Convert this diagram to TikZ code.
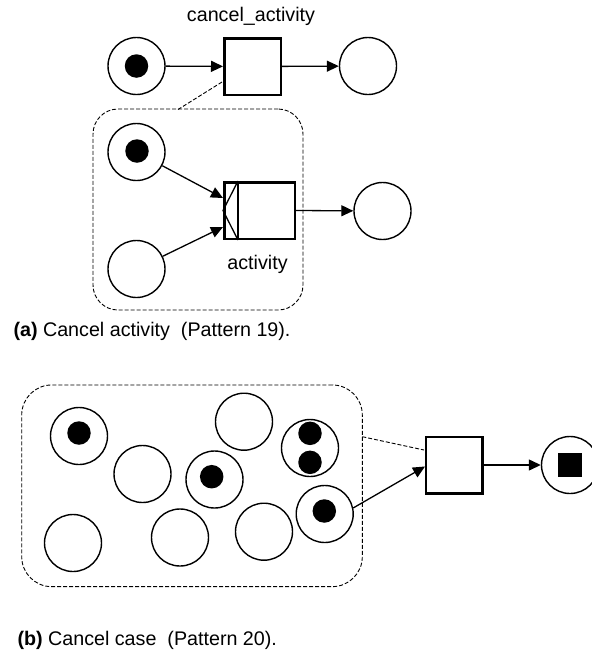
\documentclass[tikz,border=0pt]{standalone}
\usepackage{fontspec}
\setmainfont{Liberation Sans}
\usetikzlibrary{arrows.meta,calc}
\begin{document}
\begin{tikzpicture}[x=1pt,y=-1pt,
  place/.style={draw,circle,line width=1.4pt,minimum size=57pt,inner sep=0pt},
  trans/.style={draw,rectangle,line width=2.5pt,minimum size=56.5pt,inner sep=0pt},
  token/.style={circle,fill=black,minimum size=23.5pt,inner sep=0pt},
  sqtoken/.style={rectangle,fill=black,minimum size=24pt,inner sep=0pt},
  arr/.style={line width=1.3pt,-{Triangle[length=12pt,width=11pt]}},
  grp/.style={draw,dashed,dash pattern=on 4pt off 2pt,line width=0.9pt,rounded corners=#1,inner sep=0pt},
  dline/.style={dashed,dash pattern=on 4pt off 2pt,line width=0.9pt},
  lbl/.style={font=\fontsize{19.7}{23}\selectfont,inner sep=0pt,anchor=base}
]
\useasboundingbox (0,0) rectangle (592,657);

% ---------- (a) ----------
\node[grp=25pt,minimum width=210pt,minimum height=201pt] (g1) at (198,209.5) {};
\node[place] (p1) at (136.5,66) {};
\node[token] (k1) at (136.5,66) {};
\node[trans] (t1) at (252.5,66.5) {};
\node[place] (p2) at (368,66) {};
\node[lbl] (l1) at (251,21) {cancel\_activity};
\draw[arr] (p1) -- (t1);
\draw[arr] (t1) -- (p2);
\coordinate (d1) at (222,82);
\coordinate (d2) at (178,109.5);
\draw[dline] (d1) -- (d2);

\node[place] (p3) at (136.5,152) {};
\node[token] (k3) at (137,151) {};
\node[place] (p4) at (136.5,269) {};
\node[draw,rectangle,line width=2.5pt,minimum width=70.5pt,minimum height=56.5pt,inner sep=0pt] (act) at (259.5,210.5) {};
\draw[line width=2.3pt] ($(act.north west)+(15,0)$) -- ($(act.south west)+(15,0)$);
\draw[line width=1.3pt] ($(act.north west)+(15,0)$) -- (act.west) -- ($(act.south west)+(15,0)$);
\node[place] (p5) at (382.5,211) {};
\node[lbl] (l2) at (257.5,269) {activity};
\coordinate (a1) at (223,198);
\coordinate (a2) at (223,227);
\draw[arr] (p3) -- (a1);
\draw[arr] (p4) -- (a2);
\draw[arr] (act.east) -- (p5);

\node[font=\fontsize{19.7}{23}\selectfont,inner sep=0pt,anchor=base west] (capa) at (13.3,336) {\textbf{(a)} Cancel activity~ (Pattern 19).};

% ---------- (b) ----------
\node[grp=30pt,minimum width=340.6pt,minimum height=201.7pt] (g2) at (192,485.8) {};
\node[place] (c1) at (79,436) {};
\node[token] (k1b) at (79,433) {};
\node[place] (c2) at (142.5,474) {};
\node[place] (c3) at (214.5,479.5) {};
\node[token] (k3b) at (211.7,476.7) {};
\node[place] (c4) at (244,421.7) {};
\node[place] (c5) at (310,448) {};
\node[token] (k5a) at (310,433.3) {};
\node[token] (k5b) at (310,462.3) {};
\node[place] (c6) at (73,543) {};
\node[place] (c7) at (180,537.5) {};
\node[place] (c8) at (264,531.7) {};
\node[place] (c9) at (324.7,514) {};
\node[token] (k9) at (324.3,511) {};
\node[trans] (t2) at (454,465) {};
\node[place] (po) at (570,465) {};
\node[sqtoken] (ko) at (570,465) {};
\coordinate (b1) at (425,466.5);
\draw[arr] (c9.12.5) -- (b1);
\draw[arr] (t2) -- (po);
\coordinate (e1) at (362.3,436.7);
\coordinate (e2) at (424,450);
\draw[dline] (e1) -- (e2);

\node[font=\fontsize{19.7}{23}\selectfont,inner sep=0pt,anchor=base west] (capb) at (17.3,645) {\textbf{(b)} Cancel case~ (Pattern 20).};
\end{tikzpicture}
\end{document}
